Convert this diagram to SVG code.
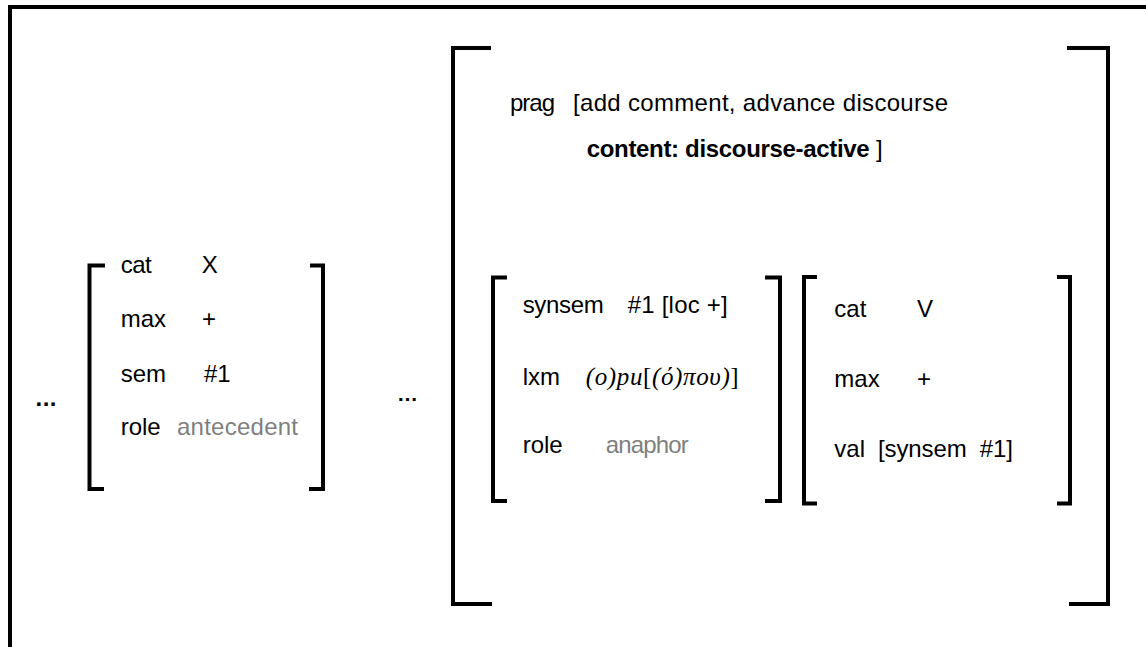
<svg xmlns="http://www.w3.org/2000/svg" width="1146" height="647" viewBox="0 0 1146 647">
<style>
.br{fill:none;stroke:#000;stroke-width:4;stroke-linejoin:miter;stroke-linecap:butt}
text{font-family:"Liberation Sans",Arial,sans-serif;font-size:24px;fill:#000}
.g{fill:#7f7f7f}
.b{font-weight:bold}
.it{font-family:"Liberation Serif","Times New Roman",serif;font-style:italic;font-size:25px}
.up{font-style:normal}
</style>
<rect x="0" y="0" width="1146" height="647" fill="#fff"/>
<g id="frame">
<path class="br" d="M10,647 V7 H1146"/>
</g>
<g id="dots-left"><text x="35.5" y="406" class="b" textLength="21">...</text></g>
<g id="antecedent-matrix">
<path class="br" d="M105,265.5 H89.5 V489 H104"/>
<path class="br" d="M310,265.5 H323 V489 H309"/>
<text x="120.7" y="273" textLength="31">cat</text><text x="201.7" y="273">X</text>
<text x="120.7" y="327">max</text><text x="202" y="327">+</text>
<text x="120.7" y="382">sem</text><text x="204" y="382">#1</text>
<text x="120.7" y="435">role</text><text x="177" y="435" class="g" textLength="121">antecedent</text>
</g>
<g id="dots-mid"><text x="397" y="401" class="b" style="font-size:21px">…</text></g>
<g id="outer-matrix">
<path class="br" d="M491,48 H453 V604 H492"/>
<path class="br" d="M1067,48 H1108 V604 H1069"/>
<text x="510" y="111" textLength="45">prag</text>
<text x="573" y="111" textLength="375">[add comment, advance discourse</text>
<text x="586.7" y="157"><tspan class="b" textLength="283">content: discourse-active</tspan> ]</text>
</g>
<g id="anaphor-matrix">
<path class="br" d="M507,277.5 H493 V501 H507"/>
<path class="br" d="M765,277.5 H780 V501 H765"/>
<text x="522.7" y="313" textLength="81">synsem</text><text x="627.7" y="313" textLength="100">#1 [loc +]</text>
<text x="522.7" y="385">lxm</text>
<text x="585.7" y="385" class="it" textLength="153">(o)pu<tspan class="up">[</tspan>(ό)που)<tspan class="up">]</tspan></text>
<text x="522.7" y="453">role</text><text x="605.7" y="453" class="g" textLength="83">anaphor</text>
</g>
<g id="verb-matrix">
<path class="br" d="M817,277 H804 V503.5 H817"/>
<path class="br" d="M1057,277 H1070 V503.5 H1057"/>
<text x="834.3" y="316.7">cat</text><text x="917" y="316.7">V</text>
<text x="834.3" y="386.7">max</text><text x="917" y="386.7">+</text>
<text x="834.3" y="456.7">val</text><text x="878" y="456.7" xml:space="preserve" textLength="135">[synsem  #1]</text>
</g>
</svg>
